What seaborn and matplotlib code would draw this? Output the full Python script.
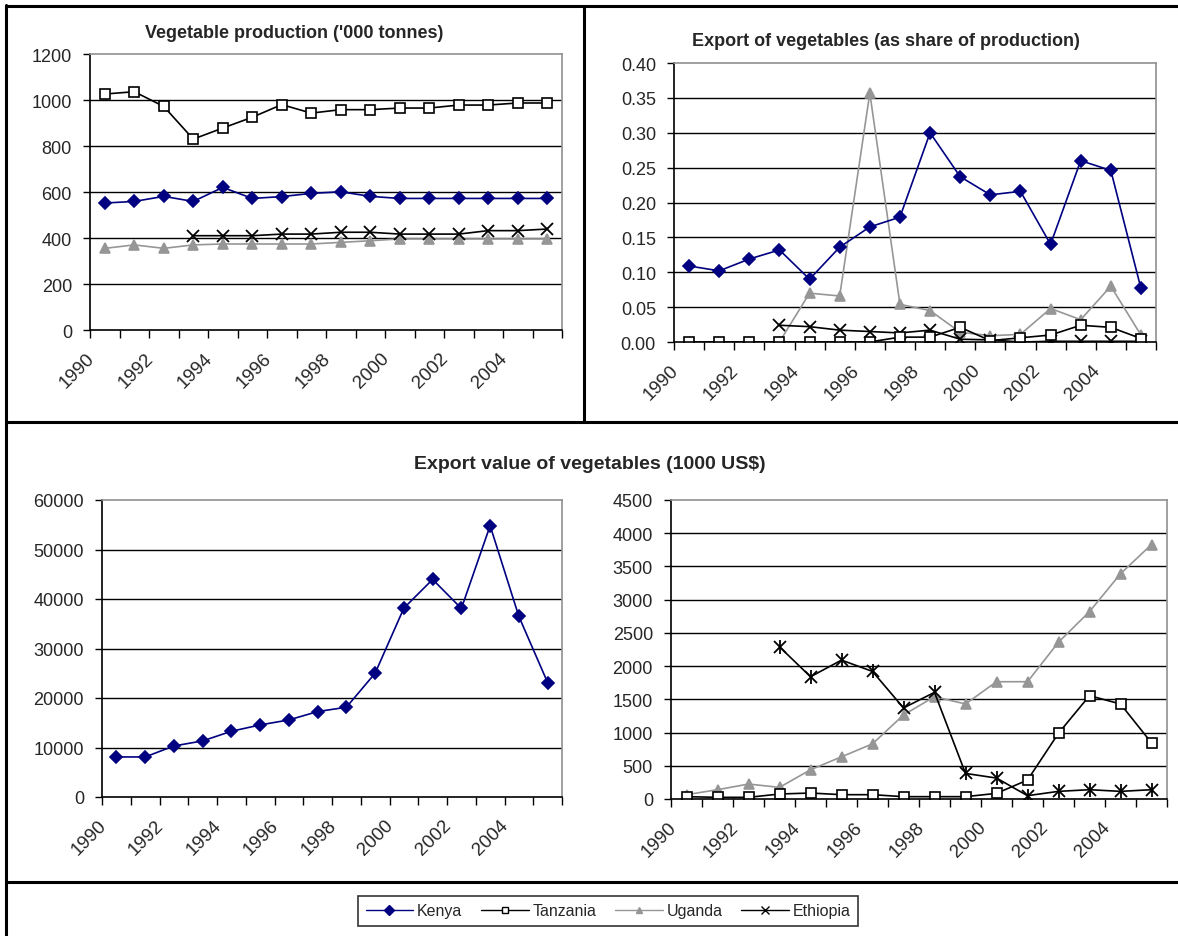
import numpy as np
import pandas as pd
import seaborn as sns
import matplotlib.pyplot as plt
from matplotlib.lines import Line2D
from matplotlib.transforms import ScaledTranslation

# data
years = list(range(1990, 2006))
countries = ["Kenya", "Tanzania", "Uganda", "Ethiopia"]
nan = np.nan

# vegetable production ('000 tonnes)
prod_kenya = [552, 559, 581, 559, 620, 572, 580, 594, 601, 581, 572, 572, 572, 572, 572, 572]
prod_tanzania = [1026, 1036, 972, 830, 878, 925, 980, 943, 958, 958, 965, 965, 978, 978, 987, 987]
prod_uganda = [355, 370, 355, 370, 374, 374, 374, 374, 381, 388, 396, 396, 396, 396, 396, 396]
prod_ethiopia = [nan, nan, nan, 410, 410, 410, 417, 417, 425, 425, 417, 417, 417, 432, 432, 439]

# export as share of production
share_kenya = [0.109, 0.102, 0.119, 0.132, 0.090, 0.136, 0.165, 0.179, 0.300, 0.237, 0.211, 0.216, 0.140, 0.260, 0.246, 0.077]
share_tanzania = [0.0, 0.0, 0.0, 0.0, 0.0, 0.0, 0.0, 0.007, 0.007, 0.021, 0.002, 0.006, 0.010, 0.024, 0.021, 0.005]
share_uganda = [0.0, 0.0, 0.0, 0.0, 0.070, 0.066, 0.357, 0.054, 0.045, 0.014, 0.009, 0.011, 0.048, 0.032, 0.080, 0.010]
share_ethiopia = [nan, nan, nan, 0.024, 0.022, 0.017, 0.015, 0.013, 0.017, 0.004, 0.003, 0.0, 0.001, 0.001, 0.001, 0.001]

# export value (1000 US$)
value_kenya = [8090, 8090, 10310, 11330, 13280, 14560, 15570, 17260, 18130, 25010, 38160, 43960, 38090, 54810, 36470, 23120]
value_tanzania = [35, 25, 25, 75, 90, 65, 65, 35, 35, 35, 85, 285, 990, 1555, 1430, 845]
value_uganda = [65, 140, 225, 175, 440, 635, 830, 1265, 1540, 1430, 1765, 1765, 2360, 2820, 3390, 3830]
value_ethiopia = [nan, nan, nan, 2290, 1840, 2090, 1920, 1370, 1605, 385, 315, 50, 115, 140, 115, 140]

sns.set_style("white")
plt.rcParams['font.family'] = ['Liberation Sans', 'DejaVu Sans']

colors = {"Kenya": "#000080", "Tanzania": "black", "Uganda": "#969696", "Ethiopia": "black"}
markers = {"Kenya": "D", "Tanzania": "s", "Uganda": "^", "Ethiopia": "x"}
mfc = {"Kenya": "#000080", "Tanzania": "white", "Uganda": "#969696", "Ethiopia": "black"}
msize = {"Kenya": 6, "Tanzania": 7, "Uganda": 7, "Ethiopia": 8}

W, H = 1178, 937
fig = plt.figure(figsize=(W / 100, H / 100), dpi=100)


def box(l, r, t, b):
    return [l / W, 1 - b / H, (r - l) / W, (b - t) / H]


def draw_panel(ax, series, ymax, ystep, fmt, star=False, shift=-19):
    pos = np.arange(len(years))
    for name, vals in series.items():
        df = pd.DataFrame({"x": pos, "y": vals}).dropna()
        sns.lineplot(data=df, x="x", y="y", ax=ax, color=colors[name], lw=1.2,
                     marker=markers[name], markersize=msize[name],
                     markerfacecolor=mfc[name], markeredgecolor=colors[name],
                     markeredgewidth=1.2 if name != "Ethiopia" else 1.3)
        if star and name == "Ethiopia":
            sns.scatterplot(data=df, x="x", y="y", ax=ax, marker="|", s=90,
                            color="black", linewidth=1.3)
    ax.set_xlim(-0.5, len(years) - 0.5)
    ax.set_ylim(0, ymax)
    yt = np.arange(0, ymax + ystep / 2, ystep)
    ax.set_yticks(yt)
    ax.set_yticklabels([fmt.format(v) for v in yt], fontsize=13)
    for v in yt[1:-1]:
        ax.axhline(v, color="black", lw=1, zorder=0)
    ax.set_xticks(np.arange(-0.5, len(years)))
    ax.set_xticklabels([])
    ax.set_xticks(np.arange(0, len(years), 2), minor=True)
    ax.set_xticklabels([str(y) for y in years[::2]], minor=True, rotation=45,
                       ha="right", va="top", rotation_mode="anchor", fontsize=13.5)
    ax.tick_params(axis="x", which="major", direction="out", length=6, width=1, color="black", bottom=True)
    ax.tick_params(axis="x", which="minor", length=0, pad=14)
    ax.tick_params(axis="y", direction="out", length=5, width=1, color="black", left=True, pad=8)
    # excel-style placement of the rotated labels (after tick_params, which resets transforms)
    off = ScaledTranslation(shift / 100, 0, fig.dpi_scale_trans)
    for lab in ax.get_xticklabels(minor=True):
        lab.set_transform(lab.get_transform() + off)
    for s in ["top", "right"]:
        ax.spines[s].set_color("#909090")
        ax.spines[s].set_linewidth(1.2)
    for s in ["left", "bottom"]:
        ax.spines[s].set_color("black")
        ax.spines[s].set_linewidth(1.2)
    ax.set_xlabel("")
    ax.set_ylabel("")


ax1 = fig.add_axes(box(90, 562, 55, 331))
draw_panel(ax1, {"Uganda": prod_uganda, "Ethiopia": prod_ethiopia, "Kenya": prod_kenya,
                 "Tanzania": prod_tanzania}, 1200, 200, "{:.0f}")

ax2 = fig.add_axes(box(674, 1156, 64, 343))
draw_panel(ax2, {"Uganda": share_uganda, "Ethiopia": share_ethiopia, "Tanzania": share_tanzania,
                 "Kenya": share_kenya}, 0.40, 0.05, "{:.2f}")

ax3 = fig.add_axes(box(102, 562, 501, 798))
draw_panel(ax3, {"Kenya": value_kenya}, 60000, 10000, "{:.0f}")

ax4 = fig.add_axes(box(671, 1167, 501, 800))
draw_panel(ax4, {"Uganda": value_uganda, "Tanzania": value_tanzania, "Ethiopia": value_ethiopia},
           4500, 500, "{:.0f}", star=True)

fig.text(294 / W, 1 - 33 / H, "Vegetable production ('000 tonnes)", ha="center", va="center",
         fontsize=13, fontweight="bold")
fig.text(886 / W, 1 - 42 / H, "Export of vegetables (as share of production)", ha="center",
         va="center", fontsize=13, fontweight="bold")
fig.text(590 / W, 1 - 465 / H, "Export value of vegetables (1000 US$)", ha="center", va="center",
         fontsize=14, fontweight="bold")

# frame lines
def hline(y, x0=6, x1=W):
    fig.add_artist(Line2D([x0 / W, x1 / W], [1 - y / H, 1 - y / H], color="black", lw=2.2))


def vline(x, y0, y1):
    fig.add_artist(Line2D([x / W, x / W], [1 - y0 / H, 1 - y1 / H], color="black", lw=2.2))


hline(7)
hline(423)
hline(883)
vline(6, 6, H)
vline(584, 7, 423)

# legend
handles = [Line2D([], [], color=colors[c], marker=markers[c], markersize=5 if c != "Ethiopia" else 6,
                  markerfacecolor=mfc[c], markeredgecolor=colors[c], lw=1) for c in countries]
leg = fig.legend(handles, countries, loc="center", bbox_to_anchor=(608 / W, 1 - 912 / H), ncol=4,
                 frameon=True, fontsize=11.5, handlelength=3.0, handletextpad=0.2, columnspacing=1.2,
                 borderpad=0.45, fancybox=False, edgecolor="black")
leg.get_frame().set_linewidth(1.2)

fig.savefig("out.png", dpi=100)
